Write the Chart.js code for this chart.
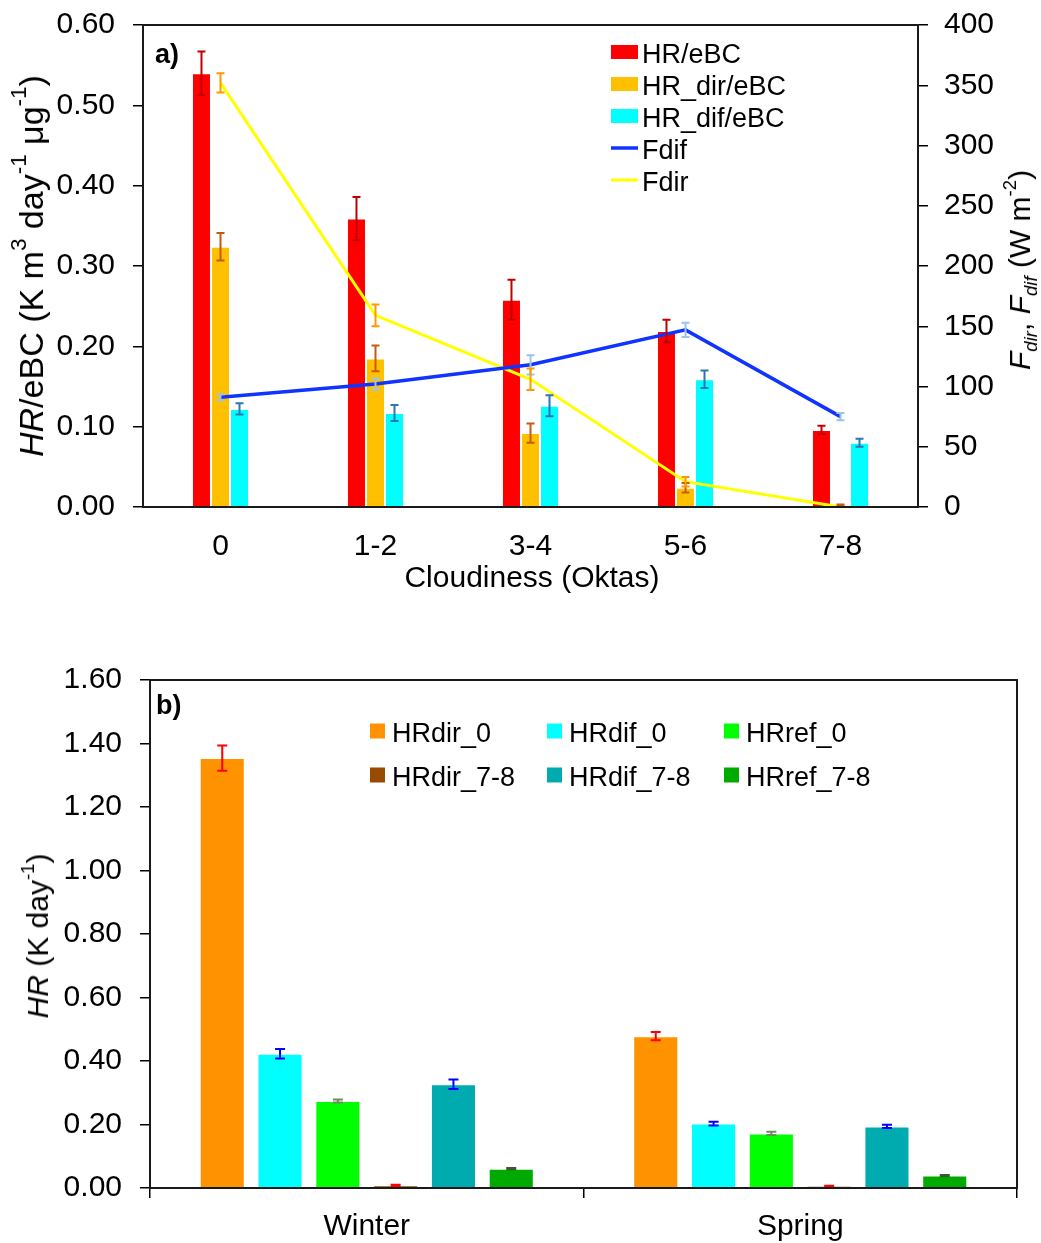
<!DOCTYPE html>
<html>
<head>
<meta charset="utf-8">
<script src="https://cdn.jsdelivr.net/npm/chart.js@4.4.0/dist/chart.umd.min.js"></script>
<style>
html,body{margin:0;padding:0;background:#fff;}
#wrap{position:relative;width:1041px;height:1243px;overflow:hidden;font-family:"Liberation Sans",Arial,sans-serif;color:#000;}
.box{position:absolute;left:0;width:1041px;}
#boxA{top:0;height:620px;}
#boxB{top:620px;height:623px;}
.ttl{position:absolute;white-space:nowrap;font-size:30px;line-height:1;transform:translate(-50%,-50%);}
.rot{transform:translate(-50%,-50%) rotate(-90deg);}
.ttl sup,.ttl sub{font-size:62%;vertical-align:0;position:relative;line-height:0;}
.ttl sup{top:-0.75em;}
.ttl sub{top:0.35em;}
.big{font-size:34px;}
.big sup{font-size:66%;}
</style>
</head>
<body>
<div id="wrap">
  <div class="box" id="boxA"><canvas id="chartA"></canvas></div>
  <div class="box" id="boxB"><canvas id="chartB"></canvas></div>
  <div class="ttl rot big" style="left:31px;top:266px;"><i>HR</i>/eBC (K m<sup>3</sup> day<sup>-1</sup> μg<sup>-1</sup>)</div>
  <div class="ttl rot" style="left:1020px;top:270px;"><i>F<sub>dir</sub></i>, <i>F<sub>dif</sub></i> (W m<sup>-2</sup>)</div>
  <div class="ttl" style="left:532px;top:577px;">Cloudiness (Oktas)</div>
  <div class="ttl rot" style="left:38px;top:936px;"><i>HR</i> (K day<sup>-1</sup>)</div>
</div>
<script>
// ---------- Panel a data ----------
const cloudCats = ['0', '1-2', '3-4', '5-6', '7-8'];
const hrEbc      = [0.540, 0.359, 0.258, 0.219, 0.096];
const hrEbcErr   = [0.027, 0.027, 0.025, 0.014, 0.005];
const hrDirEbc   = [0.324, 0.185, 0.092, 0.024, 0.002];
const hrDirEbcErr= [0.017, 0.016, 0.012, 0.006, 0.001];
const hrDifEbc   = [0.122, 0.117, 0.126, 0.159, 0.080];
const hrDifEbcErr= [0.007, 0.010, 0.013, 0.011, 0.005];
const fdif       = [91, 102, 118, 147, 75];
const fdifErr    = [2.5, 4.7, 8, 6, 3];
const fdir       = [352, 159, 106, 21, 0];
const fdirErr    = [8, 9, 9, 4, 0];
const leftTicksA  = [0, 0.6, 0.1];
const rightTicksA = [0, 400, 50];

// ---------- Panel b data ----------
const seasons   = ['Winter', 'Spring'];
const hrDir0    = [1.354, 0.478];
const hrDir0Err = [0.040, 0.013];
const hrDif0    = [0.423, 0.203];
const hrDif0Err = [0.015, 0.006];
const hrRef0    = [0.274, 0.172];
const hrRef0Err = [0.005, 0.005];
const hrDir78   = [0.008, 0.006];
const hrDir78Err= [0.002, 0.001];
const hrDif78   = [0.327, 0.194];
const hrDif78Err= [0.015, 0.005];
const hrRef78   = [0.061, 0.039];
const hrRef78Err= [0.002, 0.002];
const leftTicksB = [0, 1.6, 0.2];

const FONT = '"Liberation Sans", Arial, sans-serif';
Chart.defaults.font.family = FONT;
Chart.defaults.color = '#000';

const errorBars = {
  id: 'errorBars',
  afterDatasetsDraw(chart) {
    const ctx = chart.ctx;
    chart.data.datasets.forEach((ds, i) => {
      if (!ds.errors) return;
      const meta = chart.getDatasetMeta(i);
      if (meta.hidden) return;
      const ys = chart.scales[meta.yAxisID];
      ctx.save();
      ctx.strokeStyle = ds.errorColor;
      ctx.lineWidth = ds.errorWidth || 1.5;
      const c = (ds.errorCap || 8) / 2;
      meta.data.forEach((el, j) => {
        const v = ds.data[j], e = ds.errors[j];
        if (v == null || !e) return;
        const x = el.x;
        const y1 = ys.getPixelForValue(v + e);
        const y2 = ys.getPixelForValue(Math.max(v - e, 0));
        ctx.beginPath();
        ctx.moveTo(x, y1); ctx.lineTo(x, y2);
        ctx.moveTo(x - c, y1); ctx.lineTo(x + c, y1);
        ctx.moveTo(x - c, y2); ctx.lineTo(x + c, y2);
        ctx.stroke();
      });
      ctx.restore();
    });
  }
};

const frame = {
  id: 'frame',
  afterDraw(chart, args, o) {
    const {ctx, chartArea: a} = chart;
    ctx.save();
    ctx.strokeStyle = o.color || '#1a1a1a';
    ctx.lineWidth = o.width || 2;
    ctx.strokeRect(a.left, a.top, a.right - a.left, a.bottom - a.top);
    if (o.label) {
      ctx.font = 'bold ' + o.labelSize + 'px ' + FONT;
      ctx.fillStyle = '#000';
      ctx.textBaseline = 'alphabetic';
      ctx.fillText(o.label, a.left + o.labelDx, a.top + o.labelDy);
    }
    ctx.restore();
  }
};

const gridLegend = {
  id: 'gridLegend',
  afterDraw(chart, args, o) {
    const ctx = chart.ctx;
    ctx.save();
    ctx.font = o.size + 'px ' + FONT;
    ctx.textBaseline = 'alphabetic';
    chart.data.datasets.forEach((ds, i) => {
      const col = i % o.cols, row = Math.floor(i / o.cols);
      const x = o.x + col * o.colW;
      const base = o.y + row * o.rowH;
      const cy = base - o.swOff;
      if (ds.type === 'line') {
        ctx.strokeStyle = ds.borderColor;
        ctx.lineWidth = ds.borderWidth;
        ctx.beginPath();
        ctx.moveTo(x, cy); ctx.lineTo(x + o.swW, cy);
        ctx.stroke();
      } else {
        ctx.fillStyle = ds.backgroundColor;
        ctx.fillRect(x, cy - o.swH / 2, o.swW, o.swH);
      }
      ctx.fillStyle = '#000';
      ctx.fillText(ds.label, x + o.swW + o.gap, base);
    });
    ctx.restore();
  }
};

const tickFont = {size: 30};
const edge = 'rgba(255,255,255,0.4)';
const fixW = w => s => { s.width = w; s.paddingTop = 0; s.paddingBottom = 0; };
const fixH = h => s => { s.height = h; s.paddingLeft = 0; s.paddingRight = 0; };

// ---------- Chart a ----------
new Chart(document.getElementById('chartA'), {
  type: 'bar',
  data: {
    labels: cloudCats,
    datasets: [
      {label: 'HR/eBC', data: hrEbc, errors: hrEbcErr, errorColor: '#c00000', errorCap: 8, errorWidth: 2,
       backgroundColor: '#ff0000', borderColor: edge, borderWidth: 1, yAxisID: 'y', order: 1},
      {label: 'HR_dir/eBC', data: hrDirEbc, errors: hrDirEbcErr, errorColor: '#c55a11', errorCap: 8, errorWidth: 2,
       backgroundColor: '#ffc000', borderColor: edge, borderWidth: 1, yAxisID: 'y', order: 1},
      {label: 'HR_dif/eBC', data: hrDifEbc, errors: hrDifEbcErr, errorColor: '#2e75b6', errorCap: 8, errorWidth: 2,
       backgroundColor: '#00ffff', borderColor: edge, borderWidth: 1, yAxisID: 'y', order: 1},
      {type: 'line', label: 'Fdif', data: fdif, errors: fdifErr, errorColor: '#9dc3e6', errorCap: 8, errorWidth: 2,
       borderColor: '#1034ff', backgroundColor: '#1034ff', borderWidth: 3.5, pointRadius: 0, tension: 0,
       yAxisID: 'y1', order: 0},
      {type: 'line', label: 'Fdir', data: fdir, errors: fdirErr, errorColor: '#ff9900', errorCap: 8, errorWidth: 2,
       borderColor: '#ffff00', backgroundColor: '#ffff00', borderWidth: 3, pointRadius: 0, tension: 0,
       yAxisID: 'y1', order: 0}
    ]
  },
  options: {
    responsive: true, maintainAspectRatio: false, animation: false,
    layout: {autoPadding: false, padding: {top: 25, left: 0, right: 0, bottom: 0}},
    datasets: {bar: {barPercentage: 1, categoryPercentage: 0.368}},
    plugins: {
      legend: {display: false}, tooltip: {enabled: false},
      frame: {color: '#1a1a1a', width: 2, label: 'a)', labelSize: 27, labelDx: 12, labelDy: 38},
      gridLegend: {x: 611, y: 63, cols: 1, colW: 0, rowH: 32, swW: 27, swH: 14, swOff: 11, gap: 4, size: 27}
    },
    scales: {
      x: {
        grid: {display: false, drawTicks: false}, border: {display: false},
        ticks: {font: tickFont, padding: 22},
        afterFit: fixH(113)
      },
      y: {
        position: 'left', min: leftTicksA[0], max: leftTicksA[1],
        grid: {drawOnChartArea: false, drawTicks: true, tickLength: 10, color: '#000', lineWidth: 1.5},
        border: {display: false},
        ticks: {font: tickFont, padding: 18, stepSize: leftTicksA[2], callback: v => Number(v).toFixed(2)},
        afterFit: fixW(143)
      },
      y1: {
        position: 'right', min: rightTicksA[0], max: rightTicksA[1],
        grid: {drawOnChartArea: false, drawTicks: true, tickLength: 10, color: '#000', lineWidth: 1.5},
        border: {display: false},
        ticks: {font: tickFont, padding: 16, stepSize: rightTicksA[2]},
        afterFit: fixW(123)
      }
    }
  },
  plugins: [errorBars, frame, gridLegend]
});

// ---------- Chart b ----------
function barSet(label, data, errs, color, errColor) {
  return {label, data, errors: errs, errorColor: errColor, errorCap: 10, errorWidth: 2,
          backgroundColor: color, borderColor: edge, borderWidth: 1};
}
new Chart(document.getElementById('chartB'), {
  type: 'bar',
  data: {
    labels: seasons,
    datasets: [
      barSet('HRdir_0', hrDir0, hrDir0Err, '#ff9200', '#ff0000'),
      barSet('HRdif_0', hrDif0, hrDif0Err, '#00ffff', '#0000ff'),
      barSet('HRref_0', hrRef0, hrRef0Err, '#00ff00', '#6b8e5a'),
      barSet('HRdir_7-8', hrDir78, hrDir78Err, '#974b00', '#ff0000'),
      barSet('HRdif_7-8', hrDif78, hrDif78Err, '#00abb0', '#0000ff'),
      barSet('HRref_7-8', hrRef78, hrRef78Err, '#00aa00', '#3a5a2a')
    ]
  },
  options: {
    responsive: true, maintainAspectRatio: false, animation: false,
    layout: {autoPadding: false, padding: {top: 60, left: 0, right: 24, bottom: 0}},
    datasets: {bar: {barPercentage: 0.78, categoryPercentage: 0.8}},
    plugins: {
      legend: {display: false}, tooltip: {enabled: false},
      frame: {color: '#1a1a1a', width: 2, label: 'b)', labelSize: 27, labelDx: 6, labelDy: 34},
      gridLegend: {x: 370, y: 122, cols: 3, colW: 177, rowH: 44, swW: 15, swH: 15, swOff: 11, gap: 7, size: 27}
    },
    scales: {
      x: {
        grid: {display: true, drawOnChartArea: false, drawTicks: true, tickLength: 10, offset: true,
               color: '#000', lineWidth: 1.5},
        border: {display: false},
        ticks: {font: tickFont, padding: 11},
        afterFit: fixH(55)
      },
      y: {
        min: leftTicksB[0], max: leftTicksB[1],
        grid: {drawOnChartArea: false, drawTicks: true, tickLength: 10, color: '#000', lineWidth: 1.5},
        border: {display: false},
        ticks: {font: tickFont, padding: 18, stepSize: leftTicksB[2], callback: v => Number(v).toFixed(2)},
        afterFit: fixW(150)
      }
    }
  },
  plugins: [errorBars, frame, gridLegend]
});
</script>
</body>
</html>
